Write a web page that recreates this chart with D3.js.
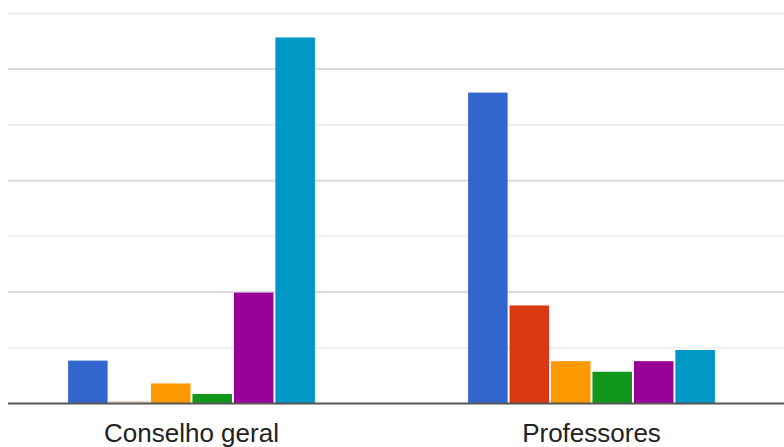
<!DOCTYPE html>
<html>
<head>
<meta charset="utf-8">
<script src="https://cdn.jsdelivr.net/npm/d3@7"></script>
<style>
  html, body { margin: 0; padding: 0; background: #ffffff; }
  svg { display: block; }
</style>
</head>
<body>
<svg id="chart" width="784" height="447"></svg>
<script>
// Groups along the x axis
const categories = ["Conselho geral", "Professores"];
// Six series per group (Google-style palette order)
const seriesNames = ["s1", "s2", "s3", "s4", "s5", "s6"];
const seriesColors = ["#3366cc", "#dc3912", "#ff9900", "#109618", "#990099", "#0099c6"];
// Values per group, one per series
const conselhoValues = [7.7, 0, 3.6, 1.7, 19.9, 65.7];
const professoresValues = [55.8, 17.6, 7.6, 5.7, 7.6, 9.6];
// Value axis gridlines (major every 20, minor in between)
const gridTicks = [10, 20, 30, 40, 50, 60, 70];
const majorTicks = [20, 40, 60];

const values = [conselhoValues, professoresValues];

const width = 784, height = 447;
const left = 8, right = 784;
const baseY = 403.5, topY = 13.5;

const svg = d3.select("#chart");

const y = d3.scaleLinear().domain([0, 70]).range([baseY, topY]);

const x0 = d3.scaleBand()
  .domain(categories)
  .range([-8.5, 791.5])
  .paddingInner(0.383)
  .paddingOuter(0.1915);

const x1 = d3.scaleBand()
  .domain(seriesNames)
  .range([0, x0.bandwidth()])
  .paddingInner(0.046)
  .paddingOuter(0);

// Horizontal gridlines
svg.append("g")
  .selectAll("line")
  .data(gridTicks)
  .join("line")
  .attr("x1", left)
  .attr("x2", right)
  .attr("y1", d => y(d))
  .attr("y2", d => y(d))
  .attr("stroke", d => majorTicks.includes(d) ? "#d6d6d6" : "#eeeeee")
  .attr("stroke-width", 1.8);

// Bars
const groups = svg.append("g")
  .selectAll("g")
  .data(categories.map((c, i) => ({ cat: c, vals: values[i] })))
  .join("g")
  .attr("transform", d => `translate(${x0(d.cat)},0)`);

groups.selectAll("rect")
  .data(d => d.vals.map((v, j) => ({ v, s: seriesNames[j], color: seriesColors[j] })))
  .join("rect")
  .attr("x", d => x1(d.s))
  .attr("width", x1.bandwidth())
  .attr("y", d => d.v > 0 ? y(d.v) : baseY - 2.5)
  .attr("height", d => d.v > 0 ? baseY - y(d.v) : 1.5)
  .attr("fill", d => d.color)
  .attr("fill-opacity", d => d.v > 0 ? 1 : 0.25);

// Baseline
svg.append("line")
  .attr("x1", left)
  .attr("x2", right)
  .attr("y1", y(0))
  .attr("y2", y(0))
  .attr("stroke", "#555555")
  .attr("stroke-width", 2);

// Category labels
svg.append("g")
  .selectAll("text")
  .data(categories)
  .join("text")
  .attr("x", d => x0(d) + x0.bandwidth() / 2)
  .attr("y", 442)
  .attr("text-anchor", "middle")
  .attr("font-family", "'Liberation Sans', Arial, sans-serif")
  .attr("font-size", 26)
  .attr("fill", "#222222")
  .text(d => d);
</script>
</body>
</html>
